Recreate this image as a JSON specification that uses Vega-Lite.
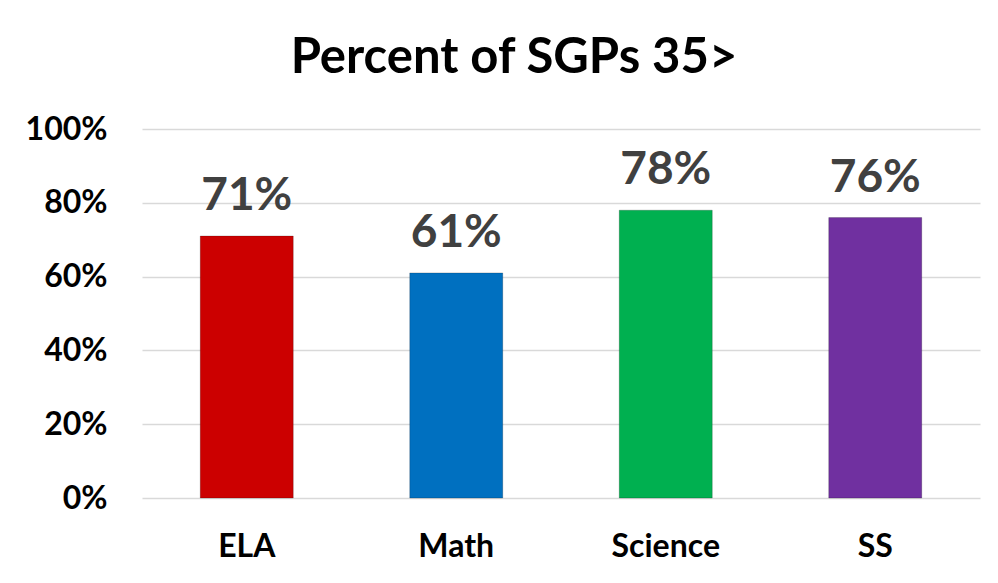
{
  "$schema": "https://vega.github.io/schema/vega-lite/v6.json",
  "width": 838,
  "height": 369,
  "autosize": {"type": "none"},
  "padding": {"left": 142, "top": 129, "right": 18, "bottom": 85},
  "background": "white",
  "config": {"view": {"stroke": null}},
  "title": {
    "text": "Percent of SGPs 35>",
    "font": "Lato",
    "fontSize": 49,
    "fontWeight": "bold",
    "color": "black",
    "anchor": "middle",
    "dx": -47,
    "offset": 30
  },
  "data": {
    "values": [
      {"subject": "ELA", "pct": 0.71},
      {"subject": "Math", "pct": 0.61},
      {"subject": "Science", "pct": 0.78},
      {"subject": "SS", "pct": 0.76}
    ]
  },
  "encoding": {
    "x": {
      "field": "subject",
      "type": "nominal",
      "sort": null,
      "scale": {"paddingInner": 0.556, "paddingOuter": 0.278},
      "axis": {
        "title": null,
        "labelAngle": 0,
        "labelFont": "Lato",
        "labelFontSize": 32,
        "labelFontWeight": "bold",
        "labelColor": "black",
        "labelPadding": 33,
        "ticks": false,
        "domain": false
      }
    },
    "y": {
      "field": "pct",
      "type": "quantitative",
      "scale": {"domain": [0, 1]},
      "axis": {
        "title": null,
        "format": ".0%",
        "values": [0, 0.2, 0.4, 0.6, 0.8, 1],
        "labelFont": "Lato",
        "labelFontSize": 32,
        "labelFontWeight": "bold",
        "labelColor": "black",
        "labelPadding": 35,
        "ticks": false,
        "domain": false,
        "gridColor": "#d9d9d9",
        "gridWidth": 1.5
      }
    }
  },
  "layer": [
    {
      "mark": {"type": "bar", "stroke": "#00000033", "strokeWidth": 1},
      "encoding": {
        "color": {
          "field": "subject",
          "type": "nominal",
          "scale": {
            "domain": ["ELA", "Math", "Science", "SS"],
            "range": ["#cc0000", "#0070c0", "#00b050", "#7030a0"]
          },
          "legend": null
        }
      }
    },
    {
      "mark": {
        "type": "text",
        "font": "Lato",
        "fontSize": 46,
        "fontWeight": "bold",
        "color": "#404040",
        "baseline": "alphabetic",
        "dy": -26
      },
      "encoding": {
        "text": {"field": "pct", "type": "quantitative", "format": ".0%"}
      }
    }
  ]
}
